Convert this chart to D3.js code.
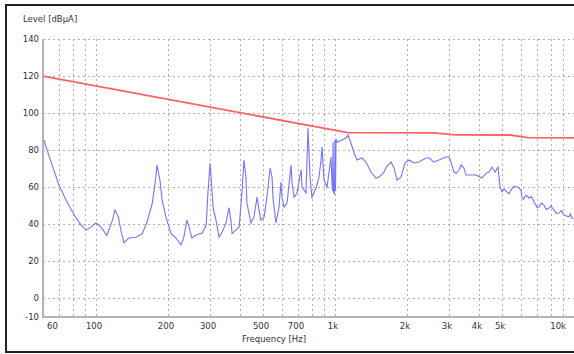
<!DOCTYPE html>
<html>
<head>
<meta charset="utf-8">
<script src="https://cdn.jsdelivr.net/npm/d3@7"></script>
<style>
  body { margin: 0; background: #fff; }
  svg text { font-family: "DejaVu Sans", Verdana, sans-serif; font-size: 8.5px; fill: #333; }
</style>
</head>
<body>
<svg id="chart" width="574" height="354"></svg>
<script>
// Axis ticks
const freqTicks = [60, 100, 200, 300, 500, 700, 1000, 2000, 3000, 4000, 5000, 10000];
const freqLabels = ["60", "100", "200", "300", "500", "700", "1k", "2k", "3k", "4k", "5k", "10k"];
const levelTicks = [-10, 0, 20, 40, 60, 80, 100, 120, 140];

// Limit line (red)
const limitFreq = [60, 1130, 2600, 3200, 5400, 6400, 10000];
const limitLevel = [120, 89.5, 89.3, 88.3, 88.2, 86.8, 86.6];

// Measured spectrum (blue)
const measFreq = [60.6, 62.4, 70, 75, 81, 86.6, 91, 95, 100, 105, 111, 117, 120, 124, 128, 131, 137, 147, 156, 163,
  172, 178, 180, 185, 189, 196, 206, 216, 227, 233, 240, 245, 252, 262, 278, 289, 294, 300, 303, 309,
  318, 327, 337, 350, 360, 367, 371, 385, 397, 408, 416, 424, 428, 445, 458, 472, 481, 490, 505, 519,
  535, 545, 550, 566, 583, 594, 600, 612, 630, 655, 661, 674, 693, 721, 728, 756, 771, 786, 801, 833,
  857, 874, 882, 899, 926, 962, 971, 976, 981, 986, 990, 995, 1000, 1005, 1010, 1020, 1070, 1112, 1133, 1166,
  1201, 1236, 1297, 1348, 1414, 1484, 1528, 1603, 1640, 1715, 1766, 1817, 1889, 1963, 2040, 2141, 2246, 2403, 2474, 2595,
  2723, 2914, 2999, 3058, 3147, 3208, 3303, 3367, 3465, 3533, 3637, 3890, 4122, 4284, 4410, 4539, 4672, 4809, 4903, 4998,
  5100, 5245, 5350, 5450, 5600, 5775, 5888, 6000, 6058, 6150, 6297, 6482, 6650, 6802, 6934, 7000, 7139, 7300, 7489, 7650,
  7861, 8000, 8249, 8450, 8654, 8850, 9082, 9300, 9530, 9650, 9809, 9950];
const measLevel = [85.5, 80, 61, 53, 45, 39.6, 37, 38.5, 40.7, 38.5, 34, 42, 47.7, 44, 35, 30, 32.6, 33, 35, 40.7,
  51.5, 65.5, 72, 64, 53, 44, 35, 32.6, 28.8, 33, 42.3, 38.5, 32.6, 34.2, 35.3, 39.6, 57, 73, 65.5, 49,
  42, 33, 35.8, 40.7, 49, 42, 35, 37, 38.5, 57, 74.7, 65.5, 51.5, 40.7, 44, 54.7, 47.7, 42.3, 44, 54.7,
  70.4, 65.5, 54.7, 40.7, 49.3, 62.8, 54.7, 49.3, 51.5, 72, 62.3, 54.7, 56.9, 69.3, 60, 57, 92, 65.5, 54.7, 59.6,
  65.5, 74.7, 81.7, 64, 60, 76.3, 62.8, 58, 84.4, 57, 60, 56, 85.5, 58, 86, 84.4, 85.5, 86.6, 88.2, 83.9,
  78.5, 74.7, 75.8, 73.6, 68.2, 65, 65.5, 68.2, 70.9, 73.6, 70.4, 63.9, 65.5, 73.1, 74.7, 73.1, 73.6, 75.8, 75.8, 73.6,
  74.7, 76.3, 76.3, 73.6, 68.2, 67.5, 69.3, 72, 70.4, 66.6, 66.6, 66.6, 65, 67.5, 68.2, 70.9, 68.2, 70.9, 60.1, 57.5,
  59, 57.5, 56.5, 58.5, 60.5, 60.1, 59.6, 58.5, 54.7, 53.5, 55.8, 54.2, 55, 52, 50.4, 49, 49.3, 51.5, 50.4, 48,
  48.8, 50, 47.7, 46, 46.1, 47.5, 45, 44.5, 44, 45.5, 43.4, 43];

const svg = d3.select("#chart");

// Plot area
const plotLeft = 43, plotRight = 574, plotTop = 39, plotBottom = 317;

const x = d3.scaleLog().domain([60, 10000]).range([plotLeft, plotRight]);
const y = d3.scaleLinear().domain([-10, 140]).range([plotBottom, plotTop]);

// Outer frame (right side runs off the picture)
svg.append("rect")
  .attr("x", 6).attr("y", 5)
  .attr("width", 580).attr("height", 347)
  .attr("fill", "#fff")
  .attr("stroke", "#222")
  .attr("stroke-width", 2);

// Grid
const grid = svg.append("g").attr("stroke", "#b0b0b0").attr("stroke-width", 1).attr("stroke-dasharray", "2,3");
grid.selectAll("line.v")
  .data(x.ticks().filter(d => d > 60))
  .enter().append("line")
  .attr("class", "v")
  .attr("x1", d => Math.round(x(d)) + 0.5).attr("x2", d => Math.round(x(d)) + 0.5)
  .attr("y1", plotTop).attr("y2", plotBottom);
grid.selectAll("line.h")
  .data(levelTicks.filter(d => d >= 0))
  .enter().append("line")
  .attr("class", "h")
  .attr("x1", plotLeft).attr("x2", plotRight)
  .attr("y1", d => Math.round(y(d)) + 0.5).attr("y2", d => Math.round(y(d)) + 0.5);

// Axis lines
svg.append("line")
  .attr("x1", plotLeft).attr("x2", plotLeft).attr("y1", plotTop).attr("y2", plotBottom + 1)
  .attr("stroke", "#b4b4b4").attr("stroke-width", 2);
svg.append("line")
  .attr("x1", plotLeft).attr("x2", plotRight).attr("y1", plotBottom).attr("y2", plotBottom)
  .attr("stroke", "#b4b4b4").attr("stroke-width", 2);

// Y tick labels
svg.selectAll("text.ylab")
  .data(levelTicks)
  .enter().append("text")
  .attr("class", "ylab")
  .attr("x", 39)
  .attr("y", d => y(d) + 3)
  .attr("text-anchor", "end")
  .text(d => d);

// X tick labels
svg.selectAll("text.xlab")
  .data(freqTicks)
  .enter().append("text")
  .attr("class", "xlab")
  .attr("x", (d, i) => i === 0 ? x(d) + 4 : (i === freqTicks.length - 1 ? x(d) - 8 : x(d) - 2))
  .attr("y", 329)
  .attr("text-anchor", (d, i) => i === 0 ? "start" : (i === freqTicks.length - 1 ? "end" : "middle"))
  .text((d, i) => freqLabels[i]);

// Axis titles
svg.append("text").attr("x", 23).attr("y", 22).text("Level [dBµA]");
svg.append("text").attr("x", 274).attr("y", 342).attr("text-anchor", "middle").text("Frequency [Hz]");

const line = d3.line().x(d => x(d[0])).y(d => y(d[1]));

// Measurement
svg.append("path")
  .datum(d3.zip(measFreq, measLevel))
  .attr("d", line)
  .attr("fill", "none")
  .attr("stroke", "#7474ff")
  .attr("stroke-width", 1.1);

// Limit
svg.append("path")
  .datum(d3.zip(limitFreq, limitLevel))
  .attr("d", line)
  .attr("fill", "none")
  .attr("stroke", "#ff6262")
  .attr("stroke-width", 1.8);
</script>
</body>
</html>
